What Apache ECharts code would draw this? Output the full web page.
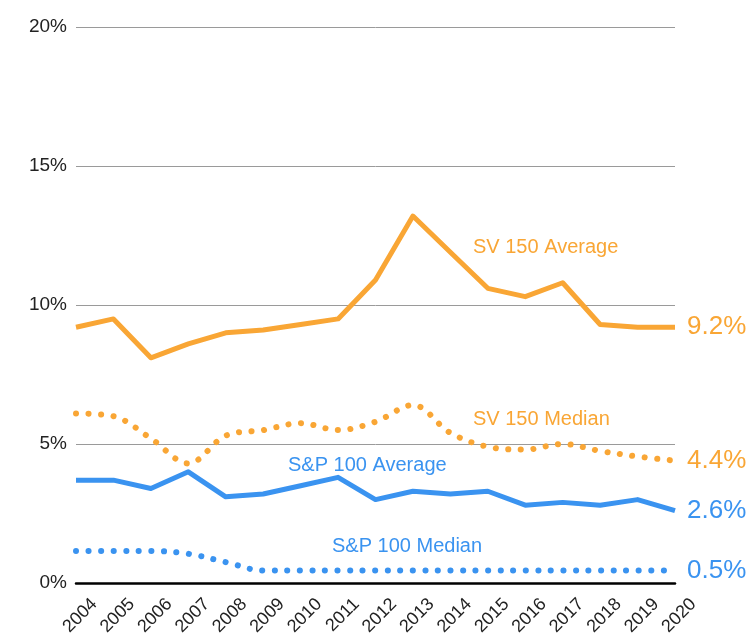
<!DOCTYPE html>
<html>
<head>
<meta charset="utf-8">
<script src="https://cdn.jsdelivr.net/npm/echarts@6/dist/echarts.min.js"></script>
<style>
html,body{margin:0;padding:0;background:#fff;}
#chart{width:753px;height:636px;}
</style>
</head>
<body>
<div id="chart"></div>
<script>
var years = ['2004','2005','2006','2007','2008','2009','2010','2011','2012','2013','2014','2015','2016','2017','2018','2019','2020'];
var sv150Average = [9.2, 9.5, 8.1, 8.6, 9.0, 9.1, 9.3, 9.5, 10.9, 13.2, 11.9, 10.6, 10.3, 10.8, 9.3, 9.2, 9.2];
var sv150Median  = [6.1, 6.0, 5.2, 4.3, 5.3, 5.5, 5.75, 5.5, 5.8, 6.4, 5.4, 4.9, 4.8, 5.0, 4.75, 4.55, 4.4];
var sp100Average = [3.7, 3.7, 3.4, 4.0, 3.1, 3.2, 3.5, 3.8, 3.0, 3.3, 3.2, 3.3, 2.8, 2.9, 2.8, 3.0, 2.6];
var sp100Median  = [1.15, 1.15, 1.15, 1.05, 0.75, 0.45, 0.45, 0.45, 0.45, 0.45, 0.45, 0.45, 0.45, 0.45, 0.45, 0.45, 0.45];
var seriesNames = ['SV 150 Average', 'SV 150 Median', 'S&P 100 Average', 'S&P 100 Median'];
var endLabels = ['9.2%', '4.4%', '2.6%', '0.5%'];
var yTicks = [0, 5, 10, 15, 20];

var ORANGE = '#F9A635';
var BLUE = '#3A93F0';
var FONT = '"Liberation Sans", Helvetica, Arial, sans-serif';

var chart = echarts.init(document.getElementById('chart'), null, {renderer: 'canvas'});

function lineSeries(name, data, color, dotted, endLabel) {
  return {
    name: name,
    type: 'line',
    data: data,
    symbol: 'none',
    smooth: dotted ? 0.35 : false,
    lineStyle: dotted
      ? {color: color, width: 6, type: [0.1, 12.45], cap: 'round'}
      : {color: color, width: 5, join: 'round'},
    itemStyle: {color: color},
    endLabel: {
      show: true,
      formatter: endLabel,
      color: color,
      fontFamily: FONT,
      fontSize: 26,
      distance: 12
    },
    emphasis: {disabled: true},
    z: dotted ? 3 : 4
  };
}

chart.setOption({
  animation: false,
  backgroundColor: '#fff',
  grid: {left: 76, right: 78, top: 27, bottom: 53, containLabel: false, outerBoundsMode: 'none'},
  xAxis: {
    type: 'category',
    data: years,
    boundaryGap: false,
    axisLine: {show: true, lineStyle: {color: '#000', width: 2.5}},
    axisTick: {show: false},
    axisLabel: {
      rotate: 45,
      interval: 0,
      margin: 0,
      verticalAlign: 'top',
      padding: [17, 0, 0, 0],
      fontSize: 18,
      color: '#222',
      fontFamily: FONT
    },
    splitLine: {show: false}
  },
  yAxis: {
    type: 'value',
    min: yTicks[0],
    max: yTicks[yTicks.length - 1],
    interval: yTicks[1] - yTicks[0],
    axisLine: {show: false},
    axisTick: {show: false},
    axisLabel: {
      formatter: '{value}%',
      fontSize: 19,
      color: '#222',
      fontFamily: FONT,
      margin: 9
    },
    splitLine: {lineStyle: {color: '#9a9a9a', width: 1}}
  },
  series: [
    lineSeries(seriesNames[0], sv150Average, ORANGE, false, endLabels[0]),
    lineSeries(seriesNames[1], sv150Median, ORANGE, true, endLabels[1]),
    lineSeries(seriesNames[2], sp100Average, BLUE, false, endLabels[2]),
    lineSeries(seriesNames[3], sp100Median, BLUE, true, endLabels[3])
  ],
  graphic: [
    {type: 'text', left: 473, top: 237, style: {text: seriesNames[0], fill: ORANGE, font: '20px ' + FONT}},
    {type: 'text', left: 473, top: 409, style: {text: seriesNames[1], fill: ORANGE, font: '20px ' + FONT}},
    {type: 'text', left: 288, top: 455, style: {text: seriesNames[2], fill: BLUE, font: '20px ' + FONT}},
    {type: 'text', left: 332, top: 536, style: {text: seriesNames[3], fill: BLUE, font: '20px ' + FONT}}
  ]
});
</script>
</body>
</html>
